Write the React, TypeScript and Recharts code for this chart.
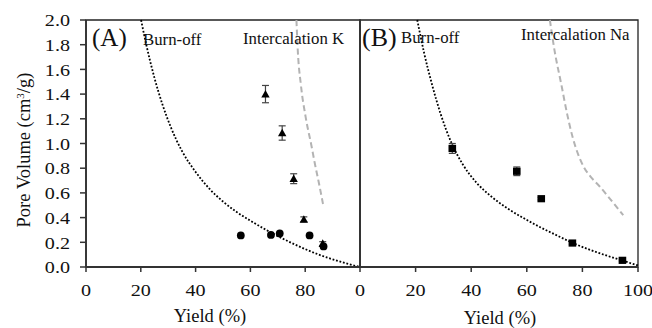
import { ComposedChart, XAxis, YAxis, Line, Scatter, ErrorBar, ReferenceArea } from "recharts";

const FONT = "'Liberation Serif', 'Times New Roman', serif";

// axis ticks
const volumeTicks = [0, 0.2, 0.4, 0.6, 0.8, 1.0, 1.2, 1.4, 1.6, 1.8, 2.0];
const yieldTicksA = [0, 20, 40, 60, 80];
const yieldTicksB = [0, 20, 40, 60, 80, 100];

// (A) burn-off reference curve
const burnOffYieldA = [20.1, 22, 25, 28, 31, 35, 40, 45, 50, 55, 60, 65, 70, 75, 80, 85, 90, 95, 100];
const burnOffVolA = [2.0, 1.8, 1.53, 1.31, 1.13, 0.94, 0.77, 0.635, 0.53, 0.445, 0.375, 0.31, 0.25, 0.195, 0.145, 0.1, 0.062, 0.029, 0];

// (A) intercalation K curve
const interKYield = [76.8, 77.3, 78.4, 80.2, 82.3, 83.5, 85, 86.5];
const interKVol = [2.0, 1.75, 1.48, 1.21, 0.98, 0.84, 0.68, 0.51];

// (A) K samples, triangles with error bars
const kTriYield = [65.5, 71.6, 75.8, 79.5, 86.4];
const kTriVol = [1.4, 1.085, 0.715, 0.386, 0.19];
const kTriErr = [0.07, 0.058, 0.04, 0.02, 0.015];

// (A) K samples, circles
const kCircYield = [56.5, 67.5, 70.7, 81.6, 86.7];
const kCircVol = [0.256, 0.26, 0.272, 0.256, 0.167];

// (B) burn-off reference curve
const burnOffYieldB = [20.6, 23, 26, 29, 33, 37, 42, 47, 53, 59.3, 65, 70, 76, 82, 88, 94, 100];
const burnOffVolB = [2.0, 1.74, 1.47, 1.24, 1.0, 0.83, 0.68, 0.575, 0.475, 0.39, 0.32, 0.265, 0.2, 0.145, 0.098, 0.055, 0.012];

// (B) intercalation Na curve
const interNaYield = [68.3, 70, 72.4, 74.5, 76.5, 78.5, 80.5, 83, 86.3, 90, 94.7];
const interNaVol = [2.0, 1.75, 1.48, 1.24, 1.05, 0.91, 0.81, 0.73, 0.65, 0.55, 0.42];

// (B) Na samples, squares
const naYield = [33.2, 56.4, 65.2, 76.4, 94.4];
const naVol = [0.96, 0.775, 0.553, 0.194, 0.054];
const naErr = [0.04, 0.035, 0.01, 0.01, 0.01];

const zip = (xs: number[], ys: number[], es?: number[]) =>
  xs.map((x, i) => ({ x, v: ys[i], err: es ? es[i] : 0 }));

const XTick = (props: any) => {
  const { x, y, payload } = props;
  return (
    <text transform={`translate(${x},${y}) scale(1.15,1)`} textAnchor="middle" dy="0.71em"
      fontSize={17.5} fontFamily={FONT} fill="#111">
      {payload.value}
    </text>
  );
};

const YTick = (props: any) => {
  const { x, y, payload } = props;
  return (
    <text transform={`translate(${x},${y}) scale(1.15,1)`} textAnchor="end" dy="0.355em"
      fontSize={17.5} fontFamily={FONT} fill="#111">
      {Number(payload.value).toFixed(1)}
    </text>
  );
};

const Triangle = (p: any) => {
  const { cx, cy } = p;
  if (cx == null || cy == null) return null;
  const s = 4.2;
  return <polygon points={`${cx},${cy - s} ${cx + s},${cy + s * 0.8} ${cx - s},${cy + s * 0.8}`} fill="#000" />;
};

const Dot = (p: any) => {
  const { cx, cy } = p;
  if (cx == null || cy == null) return null;
  return <circle cx={cx} cy={cy} r={3.9} fill="#000" />;
};

const Square = (p: any) => {
  const { cx, cy } = p;
  if (cx == null || cy == null) return null;
  return <rect x={cx - 3.8} y={cy - 3.6} width={7.6} height={7.2} fill="#000" />;
};

const axisLine = { stroke: "#333", strokeWidth: 1.8 };
const tickLine = { stroke: "#333", strokeWidth: 1.5 };

export default function App() {
  return (
    <div style={{ position: "absolute", left: 0, top: 0, width: 652, height: 328, background: "#fff" }}>
      <div style={{ position: "absolute", left: 0, top: 0 }}>
        <ComposedChart width={370} height={328} margin={{ top: 20, right: 10, bottom: 0, left: 0 }}>
          <XAxis type="number" dataKey="x" domain={[0, 100]} ticks={yieldTicksA} height={61}
            axisLine={axisLine} tickLine={tickLine} tickSize={5} tickMargin={12} tick={<XTick />} />
          <YAxis type="number" dataKey="v" domain={[0, 2]} ticks={volumeTicks} width={86}
            axisLine={axisLine} tickLine={tickLine} tickSize={6} tickMargin={10} tick={<YTick />} />
          <ReferenceArea x1={0} x2={100} y1={0} y2={2} fill="none" stroke="#222" strokeWidth={1.3} />
          <Line data={zip(burnOffYieldA, burnOffVolA)} dataKey="v" type="monotone" stroke="#000"
            strokeWidth={1.8} strokeDasharray="1.8 1.8" dot={false} activeDot={false} isAnimationActive={false} />
          <Line data={zip(interKYield, interKVol)} dataKey="v" type="monotone" stroke="#b3b3b3"
            strokeWidth={2} strokeDasharray="6 3.5" dot={false} activeDot={false} isAnimationActive={false} />
          <Scatter data={zip(kCircYield, kCircVol)} dataKey="v" shape={<Dot />} isAnimationActive={false} />
          <Scatter data={zip(kTriYield, kTriVol, kTriErr)} dataKey="v" shape={<Triangle />} isAnimationActive={false}>
            <ErrorBar dataKey="err" direction="y" width={3.5} stroke="#444" strokeWidth={1.2} />
          </Scatter>
        </ComposedChart>
      </div>
      <div style={{ position: "absolute", left: 340, top: 0 }}>
        <ComposedChart width={312} height={328} margin={{ top: 20, right: 14, bottom: 0, left: 0 }}>
          <XAxis type="number" dataKey="x" domain={[0, 100]} ticks={yieldTicksB} height={61}
            axisLine={axisLine} tickLine={tickLine} tickSize={5} tickMargin={12} tick={<XTick />} />
          <YAxis type="number" dataKey="v" domain={[0, 2]} ticks={volumeTicks} width={20}
            axisLine={axisLine} tickLine={false} tick={false} />
          <ReferenceArea x1={0} x2={100} y1={0} y2={2} fill="none" stroke="#222" strokeWidth={1.3} />
          <Line data={zip(burnOffYieldB, burnOffVolB)} dataKey="v" type="monotone" stroke="#000"
            strokeWidth={1.8} strokeDasharray="1.8 1.8" dot={false} activeDot={false} isAnimationActive={false} />
          <Line data={zip(interNaYield, interNaVol)} dataKey="v" type="monotone" stroke="#b3b3b3"
            strokeWidth={2} strokeDasharray="6 3.5" dot={false} activeDot={false} isAnimationActive={false} />
          <Scatter data={zip(naYield, naVol, naErr)} dataKey="v" shape={<Square />} isAnimationActive={false}>
            <ErrorBar dataKey="err" direction="y" width={3.5} stroke="#444" strokeWidth={1.2} />
          </Scatter>
        </ComposedChart>
      </div>
      <svg width={652} height={328} style={{ position: "absolute", left: 0, top: 0, pointerEvents: "none" }}
        fontFamily={FONT} fill="#111">
        <text x={92} y={46} fontSize={25}>(A)</text>
        <text x={143} y={44.5} fontSize={16.8}>Burn-off</text>
        <text x={243} y={44} fontSize={16.8}>Intercalation K</text>
        <text x={362} y={46} fontSize={26}>(B)</text>
        <text x={401} y={42.5} fontSize={16.8}>Burn-off</text>
        <text x={521} y={40} fontSize={16.8}>Intercalation Na</text>
        <text x={210} y={322} fontSize={18.5} textAnchor="middle">Yield (%)</text>
        <text x={500} y={324} fontSize={18.5} textAnchor="middle">Yield (%)</text>
        <text transform="translate(30,150) rotate(-90)" fontSize={18.5} textAnchor="middle">
          Pore Volume (cm<tspan dy={-6} fontSize={11}>3</tspan><tspan dy={6}>/g)</tspan>
        </text>
      </svg>
    </div>
  );
}
